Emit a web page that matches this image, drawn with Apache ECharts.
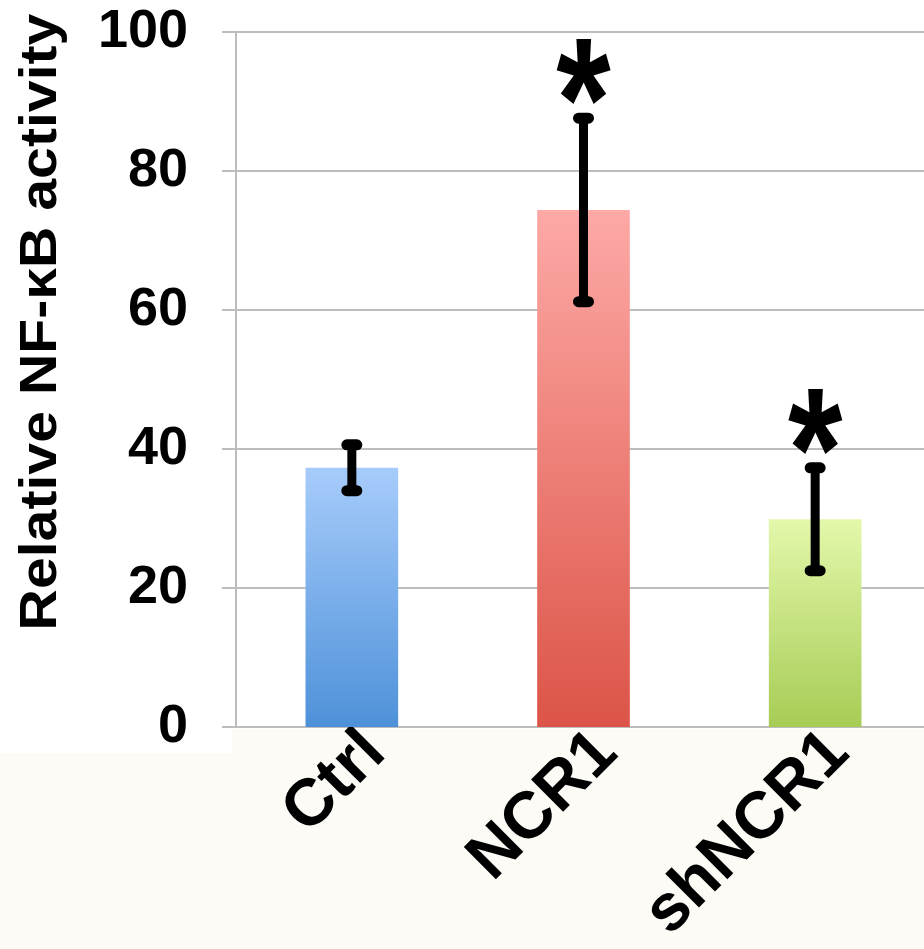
<!DOCTYPE html>
<html>
<head>
<meta charset="utf-8">
<script src="https://cdn.jsdelivr.net/npm/echarts@6/dist/echarts.min.js"></script>
<style>
html, body { margin: 0; padding: 0; background: #fff; overflow: hidden; }
#chart { width: 940px; height: 949px; }
</style>
</head>
<body>
<div id="chart"></div>
<script>
// values
var categories = ['Ctrl', 'NCR1', 'shNCR1']
var means = [37.3, 74.4, 29.9]
var errors = [3.3, 13.2, 7.4]
var marks = ['', '*', '*']
var yTicks = [0, 20, 40, 60, 80, 100]

var barColors = [
  ['#a7ccfb', '#4e91d9'],
  ['#fda9a6', '#dc5447'],
  ['#e3f8ab', '#a7cc55']
]
var font = '"Liberation Sans", Arial, sans-serif'
var gridColor = '#bdbdbd'

var chart = echarts.init(document.getElementById('chart'))

function renderError (params, api) {
  var i = api.value(0)
  var hi = api.coord([i, api.value(1) + api.value(2)])
  var lo = api.coord([i, api.value(1) - api.value(2)])
  var x = hi[0]
  var children = [
    { type: 'line', shape: { x1: x, y1: hi[1], x2: x, y2: lo[1] }, style: { stroke: '#000', lineWidth: 9 } },
    { type: 'line', shape: { x1: x - 5, y1: hi[1], x2: x + 5, y2: hi[1] }, style: { stroke: '#000', lineWidth: 11, lineCap: 'round' } },
    { type: 'line', shape: { x1: x - 5, y1: lo[1], x2: x + 5, y2: lo[1] }, style: { stroke: '#000', lineWidth: 11, lineCap: 'round' } }
  ]
  if (marks[i]) {
    children.push({
      type: 'text',
      x: x,
      y: hi[1] - 7,
      scaleY: 1.25,
      style: { text: marks[i], fill: '#000', font: 'bold 140px ' + font, align: 'center', verticalAlign: 'middle' }
    })
  }
  return { type: 'group', children: children }
}

var option = {
  backgroundColor: '#fff',
  animation: false,
  grid: { left: 236, top: 32, width: 695, height: 695, outerBoundsMode: 'none', containLabel: false },
  xAxis: {
    type: 'category',
    data: categories,
    axisLine: { lineStyle: { color: gridColor, width: 2 } },
    axisTick: { show: false },
    axisLabel: {
      rotate: 45,
      margin: -8,
      verticalAlign: 'top',
      color: '#000',
      fontSize: 66,
      fontWeight: 'bold',
      fontFamily: font
    }
  },
  yAxis: {
    type: 'value',
    min: yTicks[0],
    max: yTicks[yTicks.length - 1],
    interval: yTicks[1] - yTicks[0],
    axisLine: { show: true, lineStyle: { color: gridColor, width: 2 } },
    axisTick: { show: true, length: 14, lineStyle: { color: gridColor, width: 2 } },
    splitLine: { lineStyle: { color: gridColor, width: 2 } },
    axisLabel: {
      margin: 48,
      color: '#000',
      fontSize: 54,
      fontWeight: 'bold',
      fontFamily: font
    }
  },
  graphic: [
    { type: 'rect', x: 0, y: 753, z: -1, shape: { width: 940, height: 196 }, style: { fill: '#fcfbf6' } },
    { type: 'rect', x: 232, y: 729, z: -1, shape: { width: 708, height: 30 }, style: { fill: '#fcfbf6' } },
    {
      type: 'text',
      x: 42,
      y: 322,
      rotation: Math.PI / 2,
      scaleX: 1.1,
      style: {
        text: 'Relative NF-κB activity',
        fill: '#000',
        font: 'bold 52px ' + font,
        align: 'center',
        verticalAlign: 'middle'
      }
    }
  ],
  series: [
    {
      type: 'bar',
      barWidth: '40%',
      z: 2,
      data: means.map(function (v, i) {
        return {
          value: v,
          itemStyle: {
            color: new echarts.graphic.LinearGradient(0, 0, 0, 1, [
              { offset: 0, color: barColors[i][0] },
              { offset: 1, color: barColors[i][1] }
            ])
          }
        }
      })
    },
    {
      type: 'custom',
      z: 5,
      renderItem: renderError,
      data: means.map(function (v, i) { return [i, v, errors[i]] })
    }
  ]
}

chart.setOption(option)
</script>
</body>
</html>
